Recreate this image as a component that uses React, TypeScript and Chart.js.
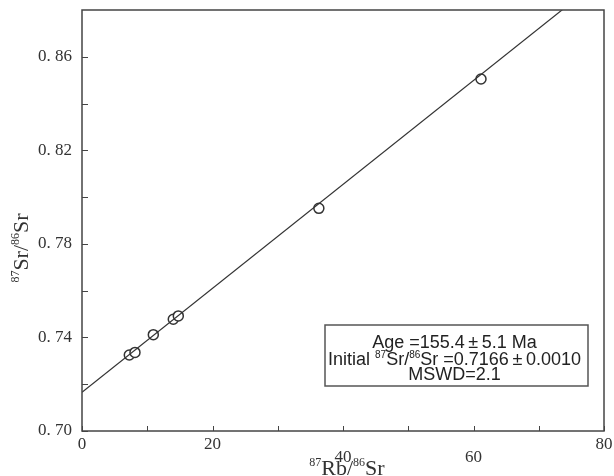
import React, { useEffect, useRef } from "react";
import { Chart, registerables } from "chart.js";

Chart.register(...registerables);

// Sample data: 87Rb/86Sr (x) vs 87Sr/86Sr (y)
const rbSr: number[] = [7.25, 8.12, 10.93, 13.99, 14.76, 36.3, 61.15];
const srSr: number[] = [0.7325, 0.7336, 0.7412, 0.7478, 0.7492, 0.7952, 0.8505];

// Isochron line endpoints
const isoX: number[] = [0, 80];
const isoY: number[] = [0.7166, 0.8943];

// Axis ticks
const xLabelTicks: number[] = [0, 20, 40, 60, 80];
const xLabelLow: boolean[] = [false, false, true, true, false];
const xMinorTicks: number[] = [10, 30, 50, 70];
const yLabelTicks: number[] = [0.7, 0.74, 0.78, 0.82, 0.86];
const yMinorTicks: number[] = [0.72, 0.76, 0.8, 0.84];

const PM = "\u2009\u00b1\u2009";
const annotationLines: string[][] = [
  ["Age =155.4" + PM + "5.1 Ma"],
  ["Initial ", "87", "Sr/", "86", "Sr =0.7166" + PM + "0.0010"],
  ["MSWD=2.1"],
];

const SERIF = "'Liberation Serif', 'Times New Roman', serif";
const SANS = "'Liberation Sans', Arial, sans-serif";

type Seg = { t: string; sup: boolean };

function drawRich(
  ctx: CanvasRenderingContext2D,
  segs: Seg[],
  cx: number,
  cy: number,
  big: number,
  small: number,
  family: string,
  supShift: number
) {
  const widths = segs.map((s) => {
    ctx.font = `${s.sup ? small : big}px ${family}`;
    return ctx.measureText(s.t).width;
  });
  const total = widths.reduce((a, b) => a + b, 0);
  let x = cx - total / 2;
  ctx.textBaseline = "alphabetic";
  ctx.textAlign = "left";
  segs.forEach((s, i) => {
    ctx.font = `${s.sup ? small : big}px ${family}`;
    ctx.fillText(s.t, x, cy - (s.sup ? supShift : 0));
    x += widths[i];
  });
}

const framePlugin = {
  id: "framePlugin",
  afterDraw(chart: any) {
    const { ctx, chartArea } = chart;
    const xs = chart.scales.x;
    const ys = chart.scales.y;
    const { left, right, top, bottom } = chartArea;
    ctx.save();
    ctx.strokeStyle = "#444";
    ctx.lineWidth = 1.5;
    ctx.strokeRect(left, top, right - left, bottom - top);
    ctx.lineWidth = 1;
    ctx.beginPath();
    [...xLabelTicks, ...xMinorTicks].forEach((v) => {
      const px = Math.round(xs.getPixelForValue(v)) + 0.5;
      ctx.moveTo(px, bottom);
      ctx.lineTo(px, bottom - 5);
    });
    [...yLabelTicks, ...yMinorTicks].forEach((v) => {
      const py = Math.round(ys.getPixelForValue(v)) + 0.5;
      ctx.moveTo(left, py);
      ctx.lineTo(left + 6, py);
    });
    ctx.stroke();

    // x tick labels (staggered as in the source figure)
    ctx.fillStyle = "#333";
    ctx.font = `17px ${SERIF}`;
    ctx.textAlign = "center";
    ctx.textBaseline = "alphabetic";
    xLabelTicks.forEach((v, i) => {
      const px = xs.getPixelForValue(v);
      ctx.fillText(String(v), px, bottom + (xLabelLow[i] ? 31 : 18));
    });

    drawRich(
      ctx,
      [
        { t: "87", sup: true },
        { t: "Rb/", sup: false },
        { t: "86", sup: true },
        { t: "Sr", sup: false },
      ],
      347,
      475,
      22,
      12,
      SERIF,
      9
    );
    ctx.save();
    ctx.translate(28, 248);
    ctx.rotate(-Math.PI / 2);
    drawRich(
      ctx,
      [
        { t: "87", sup: true },
        { t: "Sr/", sup: false },
        { t: "86", sup: true },
        { t: "Sr", sup: false },
      ],
      0,
      0,
      22,
      12,
      SERIF,
      9
    );
    ctx.restore();

    const bx0 = 325, bx1 = 588, by0 = 325, by1 = 386;
    ctx.fillStyle = "#fff";
    ctx.fillRect(bx0, by0, bx1 - bx0, by1 - by0);
    ctx.strokeStyle = "#555";
    ctx.lineWidth = 1.5;
    ctx.strokeRect(bx0, by0, bx1 - bx0, by1 - by0);
    ctx.fillStyle = "#222";
    const cx = (bx0 + bx1) / 2 - 2;
    const baselines = [348, 364.5, 380];
    annotationLines.forEach((line, i) => {
      const segs: Seg[] =
        line.length === 1
          ? [{ t: line[0], sup: false }]
          : line.map((t, j) => ({ t, sup: j === 1 || j === 3 }));
      drawRich(ctx, segs, cx, baselines[i], 18, 10, SANS, 7);
    });
    ctx.restore();
  },
};

const zeroPad = (s: any) => {
  s.paddingTop = 0;
  s.paddingBottom = 0;
  s.paddingLeft = 0;
  s.paddingRight = 0;
};

export default function App() {
  const ref = useRef<HTMLCanvasElement | null>(null);
  useEffect(() => {
    if (!ref.current) return;
    const chart = new Chart(ref.current, {
      type: "scatter",
      data: {
        datasets: [
          {
            label: "isochron",
            data: isoX.map((x, i) => ({ x, y: isoY[i] })),
            showLine: true,
            borderColor: "#333",
            borderWidth: 1.2,
            pointRadius: 0,
            fill: false,
          },
          {
            label: "samples",
            data: rbSr.map((x, i) => ({ x, y: srSr[i] })),
            pointRadius: 5,
            pointBackgroundColor: "#fff",
            pointBorderColor: "#333",
            pointBorderWidth: 1.5,
            showLine: false,
          },
        ],
      },
      options: {
        responsive: false,
        animation: false,
        layout: { padding: { top: 10, right: 10, left: 0, bottom: 0 } },
        plugins: {
          legend: { display: false },
          tooltip: { enabled: false },
        },
        scales: {
          x: {
            type: "linear",
            min: 0,
            max: 80,
            grid: { display: false, drawTicks: false },
            border: { display: false },
            afterFit: (s: any) => {
              s.height = 45;
              zeroPad(s);
            },
            afterBuildTicks: (s: any) => {
              s.ticks = xLabelTicks.map((v) => ({ value: v }));
            },
            ticks: { display: false },
          },
          y: {
            type: "linear",
            min: 0.7,
            max: 0.88,
            grid: { display: false, drawTicks: false },
            border: { display: false },
            afterFit: (s: any) => {
              s.width = 82;
              zeroPad(s);
            },
            afterBuildTicks: (s: any) => {
              s.ticks = yLabelTicks.map((v) => ({ value: v }));
            },
            ticks: {
              padding: 10,
              color: "#333",
              font: { family: SERIF, size: 17 },
              callback: (v: any) => Number(v).toFixed(2).replace(".", ". "),
            },
          },
        },
      },
      plugins: [framePlugin],
    });
    return () => chart.destroy();
  }, []);
  return (
    <div style={{ position: "fixed", left: 0, top: 0, width: 614, height: 476, background: "#fff" }}>
      <canvas ref={ref} width={614} height={476} style={{ display: "block" }} />
    </div>
  );
}
